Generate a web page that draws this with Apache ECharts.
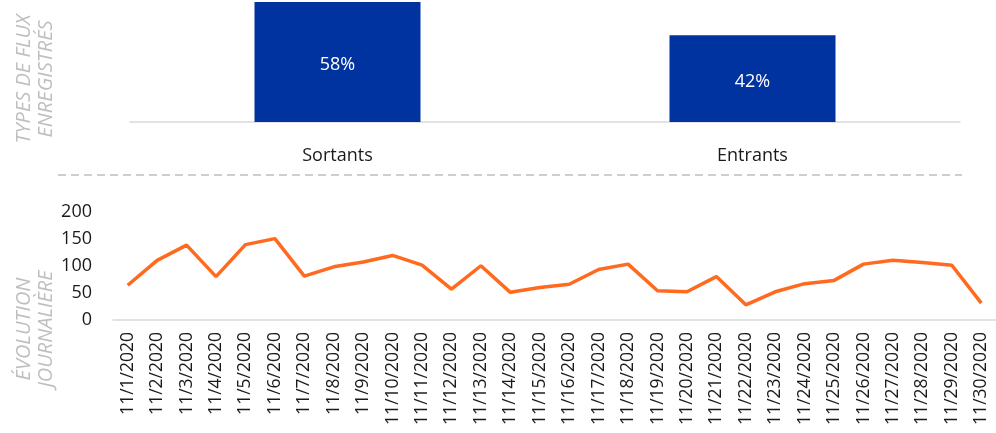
<!DOCTYPE html>
<html>
<head>
<meta charset="utf-8">
<script src="https://cdn.jsdelivr.net/npm/echarts@6/dist/echarts.min.js"></script>
<style>
  html, body { margin: 0; padding: 0; background: #fff; }
  #chart { width: 996px; height: 433px; }
</style>
</head>
<body>
<div id="chart"></div>
<script>
const flowTypes = ["Sortants", "Entrants"];
const flowShares = [58, 42];

const days = [
  "11/1/2020", "11/2/2020", "11/3/2020", "11/4/2020", "11/5/2020",
  "11/6/2020", "11/7/2020", "11/8/2020", "11/9/2020", "11/10/2020",
  "11/11/2020", "11/12/2020", "11/13/2020", "11/14/2020", "11/15/2020",
  "11/16/2020", "11/17/2020", "11/18/2020", "11/19/2020", "11/20/2020",
  "11/21/2020", "11/22/2020", "11/23/2020", "11/24/2020", "11/25/2020",
  "11/26/2020", "11/27/2020", "11/28/2020", "11/29/2020", "11/30/2020"
];
const dailyCounts = [
  64, 110, 138, 80, 139, 150, 81, 98, 107, 119,
  101, 57, 100, 51, 60, 66, 93, 103, 54, 52,
  80, 28, 52, 67, 73, 103, 110, 106, 101, 31
];
const dailyTicks = [0, 50, 100, 150, 200];

const FONT = "Open Sans";
const GREY = "#bfbfbf";
const AXIS = "#d9d9d9";

const chart = echarts.init(document.getElementById("chart"), null, { renderer: "canvas" });

const option = {
  backgroundColor: "#fff",
  animation: false,
  textStyle: { fontFamily: FONT },
  grid: [
    { left: 130, right: 36, top: 0, height: 122 },
    { left: 113, right: -3, top: 211.5, bottom: 113 }
  ],
  xAxis: [
    {
      type: "category",
      gridIndex: 0,
      data: flowTypes,
      axisLine: { lineStyle: { color: AXIS, width: 1.5 } },
      axisTick: { show: false },
      axisLabel: { color: "#1a1a1a", fontSize: 18, fontFamily: FONT, margin: 25 }
    },
    {
      type: "category",
      gridIndex: 1,
      data: days,
      boundaryGap: true,
      axisLine: { lineStyle: { color: AXIS, width: 1.5 } },
      axisTick: { show: false },
      axisLabel: {
        color: "#1a1a1a", fontSize: 17.5, fontFamily: FONT,
        rotate: 90, interval: 0, margin: 12
      }
    }
  ],
  yAxis: [
    {
      type: "value",
      gridIndex: 0,
      min: 0,
      max: 59,
      show: false
    },
    {
      type: "value",
      gridIndex: 1,
      min: dailyTicks[0],
      max: dailyTicks[dailyTicks.length - 1],
      interval: 50,
      axisLine: { show: false },
      axisTick: { show: false },
      splitLine: { show: false },
      axisLabel: { color: "#1a1a1a", fontSize: 18, fontFamily: FONT, margin: 21 }
    }
  ],
  series: [
    {
      name: "Types de flux",
      type: "bar",
      xAxisIndex: 0,
      yAxisIndex: 0,
      data: flowShares,
      barWidth: "40%",
      itemStyle: { color: "#0033a0" },
      label: {
        show: true,
        position: "inside",
        offset: [0, 3],
        formatter: "{c}%",
        color: "#fff",
        fontSize: 18,
        fontFamily: FONT
      }
    },
    {
      name: "Évolution journalière",
      type: "line",
      xAxisIndex: 1,
      yAxisIndex: 1,
      data: dailyCounts,
      showSymbol: false,
      lineStyle: { color: "#ff6a1f", width: 3.5 },
      itemStyle: { color: "#ff6a1f" }
    }
  ],
  graphic: [
    {
      type: "line",
      shape: { x1: 58, y1: 175, x2: 962, y2: 175 },
      style: { stroke: GREY, lineWidth: 1.5, lineDash: [8, 5] }
    },
    {
      type: "text",
      x: 35,
      y: 79,
      rotation: Math.PI / 2,
      style: {
        text: "TYPES DE FLUX\nENREGISTRÉS",
        fill: GREY,
        font: "italic 20px 'Open Sans'",
        align: "center",
        verticalAlign: "middle",
        lineHeight: 22
      }
    },
    {
      type: "text",
      x: 35,
      y: 329,
      rotation: Math.PI / 2,
      style: {
        text: "ÉVOLUTION\nJOURNALIÈRE",
        fill: GREY,
        font: "italic 20px 'Open Sans'",
        align: "center",
        verticalAlign: "middle",
        lineHeight: 22
      }
    }
  ]
};

chart.setOption(option);
</script>
</body>
</html>
